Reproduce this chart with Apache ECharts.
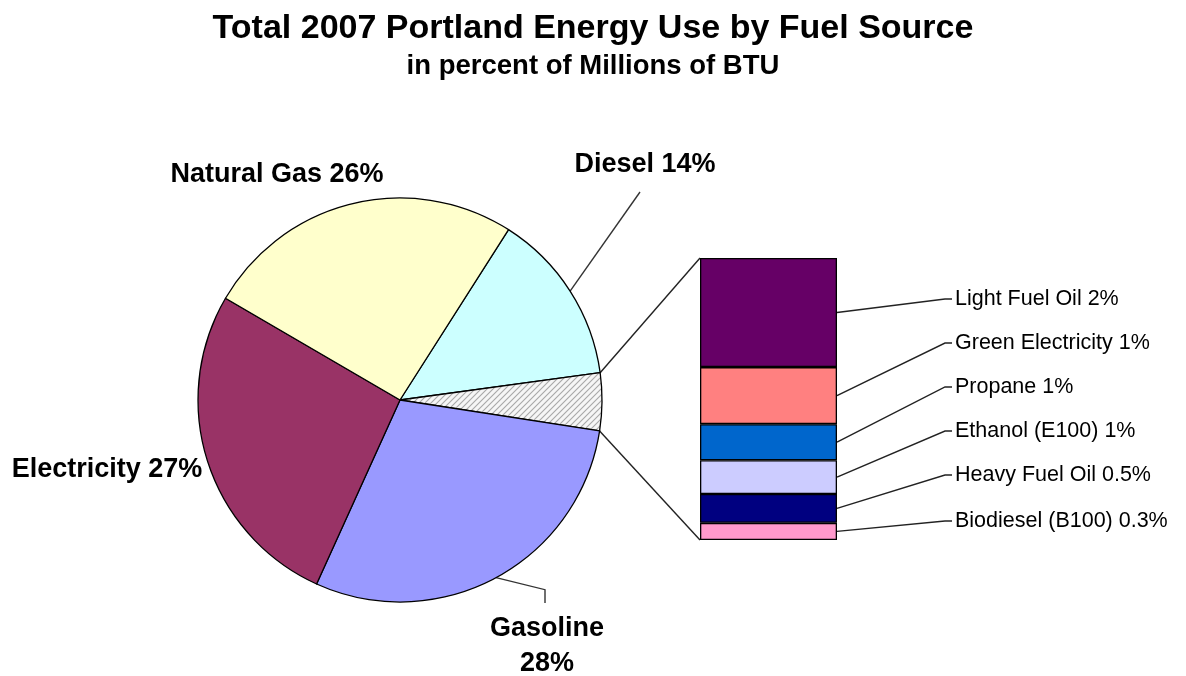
<!DOCTYPE html>
<html><head><meta charset="utf-8">
<script src="https://cdn.jsdelivr.net/npm/echarts@6/dist/echarts.min.js"></script>
<style>html,body{margin:0;padding:0;background:#fff}#c{width:1186px;height:676px}</style>
</head><body><div id="c"></div>
<script>
// ---- data ----
const mainNames = ['Diesel', 'Other', 'Gasoline', 'Electricity', 'Natural Gas'];
const mainValues = [13.8, 4.6, 29.3, 26.6, 25.6];
const mainLabels = ['Diesel 14%', '', 'Gasoline\n28%', 'Electricity 27%', 'Natural Gas 26%'];
const subNames = ['Light Fuel Oil', 'Green Electricity', 'Propane', 'Ethanol (E100)', 'Heavy Fuel Oil', 'Biodiesel (B100)'];
const subValues = [1.78, 0.93, 0.59, 0.55, 0.47, 0.28];
const subLabels = ['Light Fuel Oil 2%', 'Green Electricity 1%', 'Propane 1%', 'Ethanol (E100) 1%', 'Heavy Fuel Oil 0.5%', 'Biodiesel (B100) 0.3%'];

// ---- styles / layout ----
const mainColors = ['#CCFFFF', null, '#9999FF', '#993366', '#FFFFCC'];
const subColors = ['#660066', '#FF8080', '#0066CC', '#CCCCFF', '#000080', '#FF99CC'];
const PIE = {cx: 400, cy: 400, r: 202, start: 57.5};
const GRID = {left: 700, top: 258, width: 137, height: 282};
const pieLabelPos = {
  0: {x: 645, y: 165},
  2: {x: 547, y: 646},
  3: {x: 107, y: 470},
  4: {x: 277, y: 175}
};
const subLabelX = 955;
const subLabelY = [299, 343, 387, 431, 475, 521];
const FONT = '"Liberation Sans", Arial, sans-serif';

function hatch() {
  const c = document.createElement('canvas'); c.width = 6; c.height = 6;
  const g = c.getContext('2d');
  g.fillStyle = '#f6f6f6'; g.fillRect(0, 0, 6, 6);
  g.strokeStyle = '#a8a8a8'; g.lineWidth = 1.1;
  g.beginPath();
  g.moveTo(0, 6); g.lineTo(6, 0);
  g.moveTo(-3, 3); g.lineTo(3, -3);
  g.moveTo(3, 9); g.lineTo(9, 3);
  g.stroke();
  return c;
}

const chart = echarts.init(document.getElementById('c'), null, {renderer: 'canvas'});

const pieData = mainNames.map((n, i) => ({
  name: n,
  value: mainValues[i],
  itemStyle: {color: i === 1 ? {image: hatch(), repeat: 'repeat'} : mainColors[i]},
  label: {show: mainLabels[i] !== ''},
  labelLine: {show: i === 0 || i === 2}
}));

const barSeries = [];
for (let k = subNames.length - 1; k >= 0; k--) {
  barSeries.push({
    type: 'bar', name: subNames[k], stack: 'sub', barWidth: '100%',
    data: [subValues[k]],
    itemStyle: {color: subColors[k], borderColor: '#000', borderWidth: 1.3},
    label: {show: true, position: 'right', formatter: subLabels[k],
      fontFamily: FONT, fontSize: 21.5, color: '#000'},
    labelLayout: function () {
      return {x: subLabelX, y: subLabelY[k], align: 'left', verticalAlign: 'middle'};
    },
    animation: false
  });
}

const option = {
  backgroundColor: '#fff',
  animation: false,
  title: {
    text: 'Total 2007 Portland Energy Use by Fuel Source',
    subtext: 'in percent of Millions of BTU',
    left: 'center', top: 7, itemGap: 6,
    textStyle: {fontFamily: FONT, fontSize: 34, fontWeight: 'bold', color: '#000'},
    subtextStyle: {fontFamily: FONT, fontSize: 27.5, fontWeight: 'bold', color: '#000'}
  },
  grid: {left: GRID.left, top: GRID.top, width: GRID.width, height: GRID.height, containLabel: false},
  xAxis: {type: 'category', data: ['other'], show: false},
  yAxis: {type: 'value', min: 0, max: 'dataMax', show: false},
  series: [{
    type: 'pie',
    center: [PIE.cx, PIE.cy], radius: PIE.r,
    startAngle: PIE.start, clockwise: true,
    avoidLabelOverlap: false,
    data: pieData,
    itemStyle: {borderColor: '#000', borderWidth: 1.3},
    label: {
      position: 'outside', fontFamily: FONT, fontSize: 27, fontWeight: 'bold', color: '#000',
      lineHeight: 35, align: 'center',
      formatter: p => mainLabels[p.dataIndex]
    },
    labelLine: {lineStyle: {color: '#333', width: 1.4}},
    labelLayout: function (p) {
      const pos = pieLabelPos[p.dataIndex];
      if (!pos) return {};
      const res = {x: pos.x, y: pos.y, align: 'center', verticalAlign: 'middle'};
      if (p.labelLinePoints) {
        const s = p.labelLinePoints[0];
        if (p.dataIndex === 0) res.labelLinePoints = [s, [pos.x - 5, pos.y + 27], [pos.x - 5, pos.y + 27]];
        if (p.dataIndex === 2) res.labelLinePoints = [s, [pos.x - 2, s[1] + 12], [pos.x - 2, pos.y - 43]];
      }
      return res;
    },
    emphasis: {disabled: true},
    animation: false
  }].concat(barSeries)
};
chart.setOption(option);

// connector lines from the "Other" slice to the sub bar, and bar leader lines
const total = mainValues.reduce((a, b) => a + b, 0);
const a0 = PIE.start * Math.PI / 180 - mainValues[0] / total * 2 * Math.PI;
const a1 = a0 - mainValues[1] / total * 2 * Math.PI;
const p0 = [PIE.cx + PIE.r * Math.cos(a0), PIE.cy - PIE.r * Math.sin(a0)];
const p1 = [PIE.cx + PIE.r * Math.cos(a1), PIE.cy - PIE.r * Math.sin(a1)];
const subTotal = subValues.reduce((a, b) => a + b, 0);
const topPx = chart.convertToPixel({yAxisIndex: 0}, subTotal);
const botPx = chart.convertToPixel({yAxisIndex: 0}, 0);
const leftPx = chart.convertToPixel({xAxisIndex: 0}, 'other') - GRID.width / 2;
const rightPx = leftPx + GRID.width;
const graphics = [
  {type: 'line', shape: {x1: p0[0], y1: p0[1], x2: leftPx, y2: topPx}, style: {stroke: '#222', lineWidth: 1.4}},
  {type: 'line', shape: {x1: p1[0], y1: p1[1], x2: leftPx, y2: botPx}, style: {stroke: '#222', lineWidth: 1.4}}
];
let below = 0;
for (let k = subValues.length - 1; k >= 0; k--) {
  const midY = chart.convertToPixel({yAxisIndex: 0}, below + subValues[k] / 2);
  below += subValues[k];
  const ly = subLabelY[k];
  graphics.push({type: 'polyline', shape: {points: [[rightPx, midY], [subLabelX - 10, ly], [subLabelX - 3, ly]]},
    style: {stroke: '#222', lineWidth: 1.4, fill: null}});
}
chart.setOption({graphic: graphics});
</script></body></html>
